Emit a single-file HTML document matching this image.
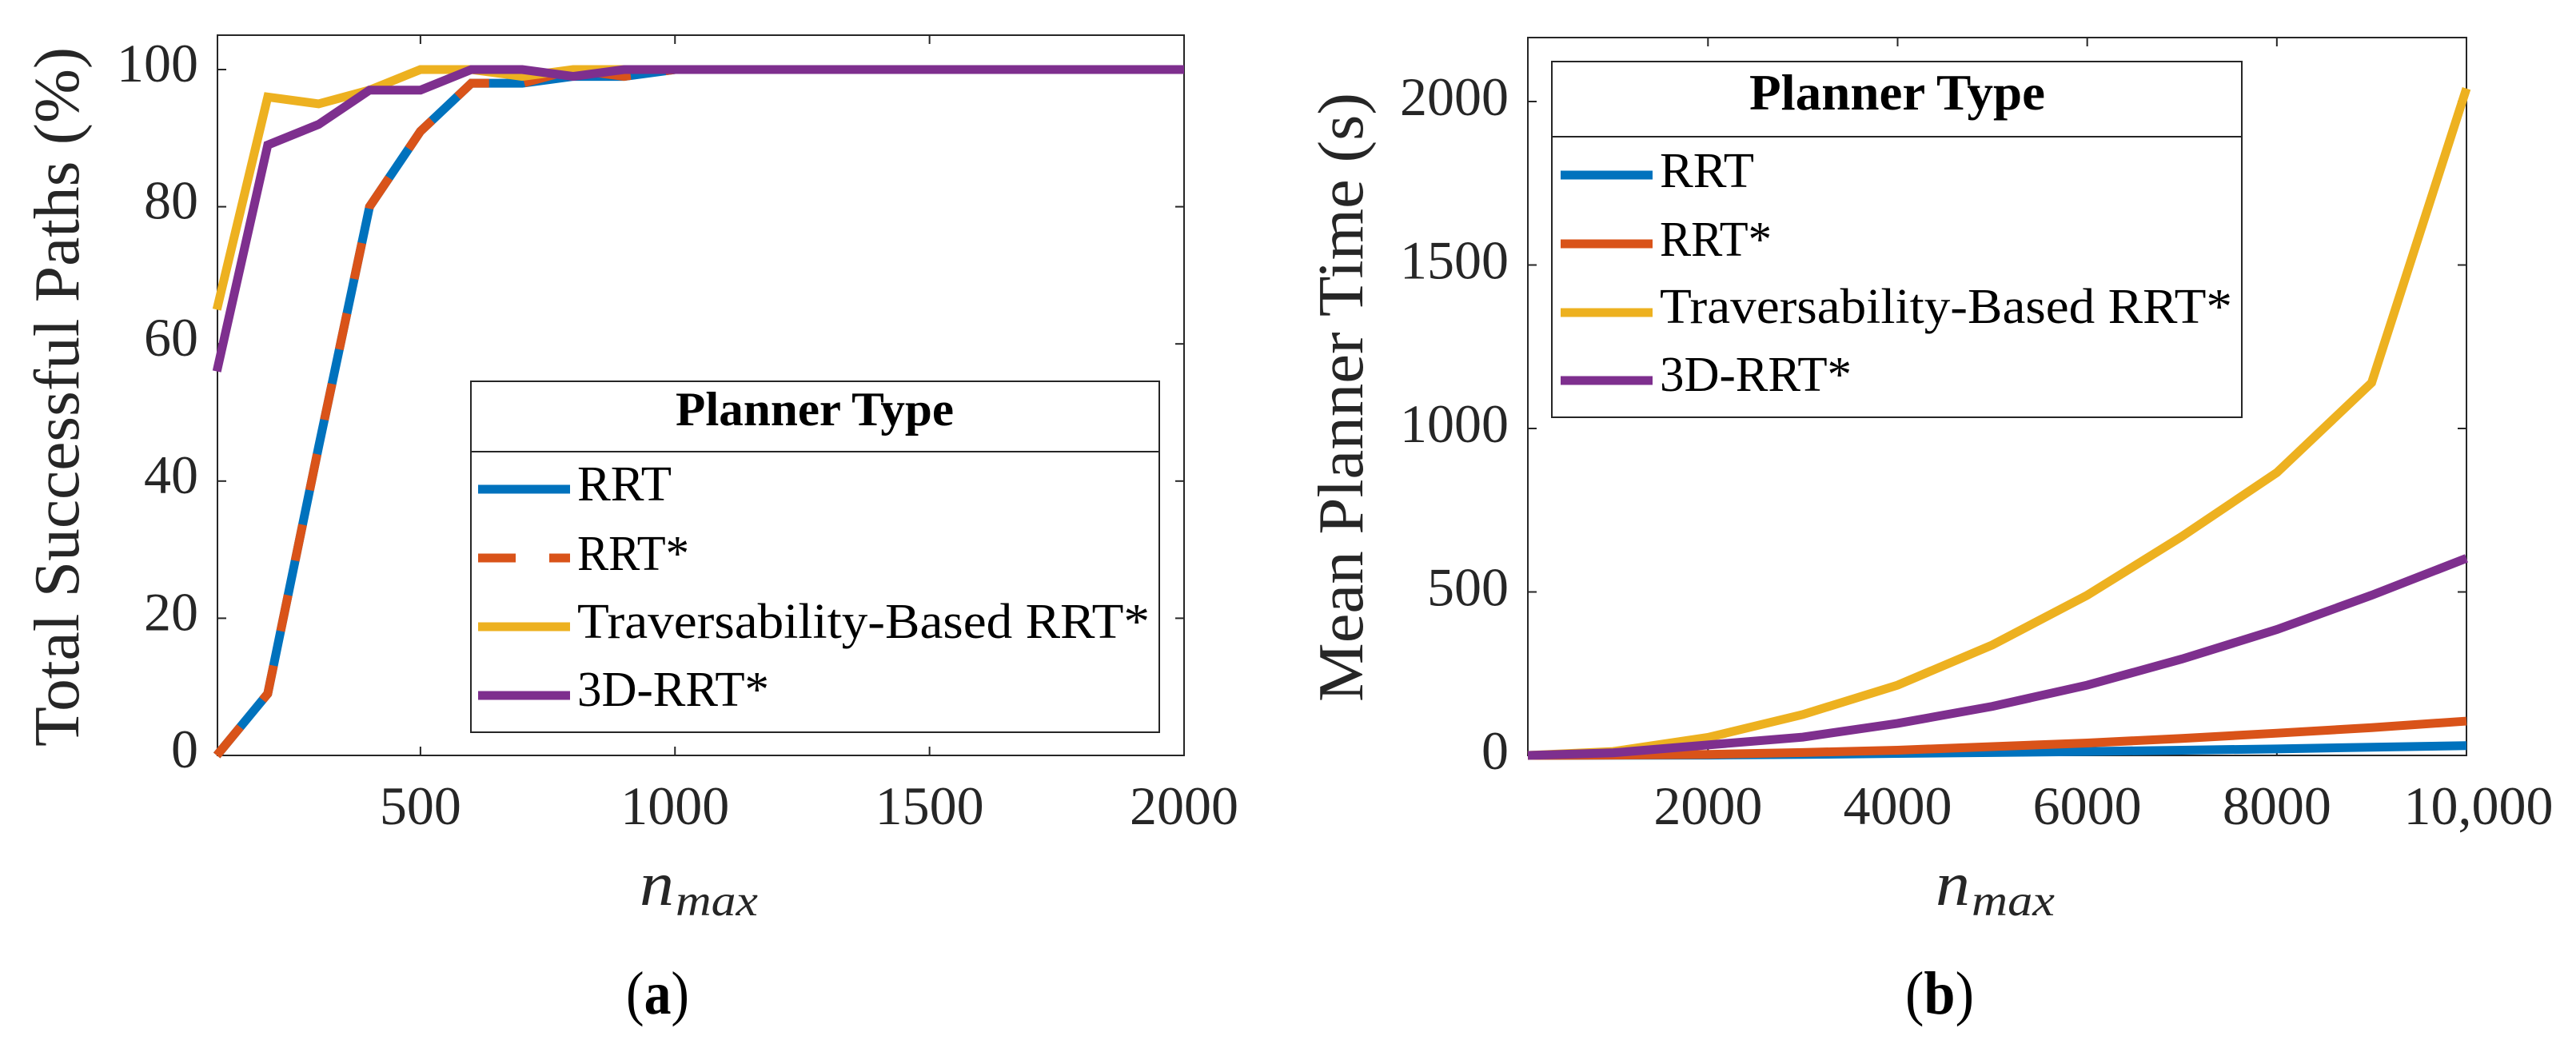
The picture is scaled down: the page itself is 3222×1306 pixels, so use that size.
<!DOCTYPE html>
<html lang="en">
<head>
<meta charset="utf-8">
<title>Planner comparison charts</title>
<style>
html,body{margin:0;padding:0;background:#fff;width:3222px;height:1306px;overflow:hidden}
svg{display:block}
text{font-family:"Liberation Serif",serif}
.tick-label{font-size:68px;fill:#262626}
.axis-title{font-size:81px;fill:#262626}
.legend-text{font-size:62px;fill:#000}
.legend-title{font-weight:bold;fill:#000}
.math-main{font-size:78px;font-style:italic;fill:#262626}
.math-sub{font-size:55px;font-style:italic;fill:#262626}
.caption{font-size:76px;fill:#000}
</style>
</head>
<body>
<svg id="figure" xmlns="http://www.w3.org/2000/svg" width="3222" height="1306" viewBox="0 0 3222 1306">
  <rect x="0" y="0" width="3222" height="1306" fill="#fff"/>

  <g id="chart-a">
    <rect x="272" y="44" width="1209" height="901" fill="none" stroke="#262626" stroke-width="2"/>
    <g id="ticks-a"></g>
    <g id="lines-a"></g>
    <text class="axis-title" transform="translate(98,934) rotate(-90)" textLength="875" lengthAdjust="spacingAndGlyphs">Total Successful Paths (%)</text>
    <text class="math-main" x="800" y="1132" textLength="43" lengthAdjust="spacingAndGlyphs">n</text>
    <text class="math-sub" x="845" y="1145" textLength="103" lengthAdjust="spacingAndGlyphs">max</text>
    <g>
      <rect x="589" y="477" width="861" height="439" fill="#fff" stroke="#262626" stroke-width="2"/>
      <line x1="589" y1="565" x2="1450" y2="565" stroke="#262626" stroke-width="2"/>
      <text class="legend-title" font-size="60" x="845" y="532" textLength="348" lengthAdjust="spacingAndGlyphs">Planner Type</text>
      <line x1="598" y1="612" x2="713" y2="612" stroke="#0072BD" stroke-width="11"/>
      <text class="legend-text" x="722" y="626" textLength="118" lengthAdjust="spacingAndGlyphs">RRT</text>
      <line x1="598" y1="698" x2="713" y2="698" stroke="#D95319" stroke-width="11" stroke-dasharray="47 42"/>
      <text class="legend-text" x="722" y="713" textLength="140" lengthAdjust="spacingAndGlyphs">RRT*</text>
      <line x1="598" y1="784" x2="713" y2="784" stroke="#EDB120" stroke-width="11"/>
      <text class="legend-text" x="722" y="798" textLength="716" lengthAdjust="spacingAndGlyphs">Traversability-Based RRT*</text>
      <line x1="598" y1="870" x2="713" y2="870" stroke="#7E2F8E" stroke-width="11"/>
      <text class="legend-text" x="722" y="883" textLength="240" lengthAdjust="spacingAndGlyphs">3D-RRT*</text>
    </g>
    <text class="caption" x="783" y="1268" textLength="79" lengthAdjust="spacingAndGlyphs">(<tspan font-weight="bold">a</tspan>)</text>
  </g>

  <g id="chart-b">
    <rect x="1911" y="47" width="1174" height="898" fill="none" stroke="#262626" stroke-width="2"/>
    <g id="ticks-b"></g>
    <g id="lines-b"></g>
    <text class="axis-title" transform="translate(1704,878) rotate(-90)" textLength="762" lengthAdjust="spacingAndGlyphs">Mean Planner Time (s)</text>
    <text class="math-main" x="2421" y="1132" textLength="43" lengthAdjust="spacingAndGlyphs">n</text>
    <text class="math-sub" x="2466" y="1145" textLength="104" lengthAdjust="spacingAndGlyphs">max</text>
    <g>
      <rect x="1941" y="77" width="863" height="445" fill="#fff" stroke="#262626" stroke-width="2"/>
      <line x1="1941" y1="171" x2="2804" y2="171" stroke="#262626" stroke-width="2"/>
      <text class="legend-title" font-size="64" x="2188" y="137" textLength="370" lengthAdjust="spacingAndGlyphs">Planner Type</text>
      <line x1="1952" y1="219" x2="2067" y2="219" stroke="#0072BD" stroke-width="11"/>
      <text class="legend-text" x="2076" y="234" textLength="118" lengthAdjust="spacingAndGlyphs">RRT</text>
      <line x1="1952" y1="305" x2="2067" y2="305" stroke="#D95319" stroke-width="11"/>
      <text class="legend-text" x="2076" y="320" textLength="140" lengthAdjust="spacingAndGlyphs">RRT*</text>
      <line x1="1952" y1="391" x2="2067" y2="391" stroke="#EDB120" stroke-width="11"/>
      <text class="legend-text" x="2076" y="404" textLength="716" lengthAdjust="spacingAndGlyphs">Traversability-Based RRT*</text>
      <line x1="1952" y1="476" x2="2067" y2="476" stroke="#7E2F8E" stroke-width="11"/>
      <text class="legend-text" x="2076" y="489" textLength="240" lengthAdjust="spacingAndGlyphs">3D-RRT*</text>
    </g>
    <text class="caption" x="2383" y="1268" textLength="86" lengthAdjust="spacingAndGlyphs">(<tspan font-weight="bold">b</tspan>)</text>
  </g>
</svg>

<script>
// Chart A: total successful paths
var successN = [100,200,300,400,500,600,700,800,900,1000,1100,1200,1300,1400,1500,1600,1700,1800,1900,2000];
var successRrt = [0,9,45,80,91,98,98,99,99,100,100,100,100,100,100,100,100,100,100,100];
var successRrtStar = [0,9,45,80,91,98,98,100,99,100,100,100,100,100,100,100,100,100,100,100];
var successTraversability = [65,96,95,97,100,100,99,100,100,100,100,100,100,100,100,100,100,100,100,100];
var success3d = [56,89,92,97,97,100,100,99,100,100,100,100,100,100,100,100,100,100,100,100];
var successXTicks = [500,1000,1500,2000];
var successYTicks = [0,20,40,60,80,100];

// Chart B: mean planner time
var timeN = [100,1000,2000,3000,4000,5000,6000,7000,8000,9000,10000];
var timeRrt = [0,0.5,1,3,6,9,12,16,20,25,30];
var timeRrtStar = [0,1,3,9,16,27,38,52,68,85,105];
var timeTraversability = [0,12,55,125,215,338,490,670,865,1140,2040];
var time3d = [0,8,32,56,98,150,215,295,385,490,603];
var timeXTicks = [2000,4000,6000,8000,10000];
var timeXTickLabels = ['2000','4000','6000','8000','10,000'];
var timeYTicks = [0,500,1000,1500,2000];

var SVG_NS = 'http://www.w3.org/2000/svg';

// Axis functions
function successX(v) { return 271.2 + (v - 100) * (1481 - 271.2) / 1900; }
function successY(v) { return 945 - v * 8.58; }
function timeX(v) { return 1911 + (v - 100) * (3085 - 1911) / 9900; }
function timeY(v) { return 945 - v * 0.409; }

function drawSeries(groupId, xs, ys, xFn, yFn, color, name, dash) {
  var pts = [];
  for (var i = 0; i < xs.length; i++) {
    pts.push(xFn(xs[i]).toFixed(2) + ',' + yFn(ys[i]).toFixed(2));
  }
  var line = document.createElementNS(SVG_NS, 'polyline');
  
  
  line.setAttribute('points', pts.join(' '));
  line.setAttribute('fill', 'none');
  line.setAttribute('stroke', color);
  line.setAttribute('stroke-width', '11');
  line.setAttribute('stroke-linejoin', 'miter');
  if (dash) { line.setAttribute('stroke-dasharray', dash); }
  document.getElementById(groupId).appendChild(line);
}

function drawTickMark(groupId, x1, y1, x2, y2, name) {
  var t = document.createElementNS(SVG_NS, 'line');
  
  
  t.setAttribute('x1', x1);
  t.setAttribute('y1', y1);
  t.setAttribute('x2', x2);
  t.setAttribute('y2', y2);
  t.setAttribute('stroke', '#262626');
  t.setAttribute('stroke-width', '2');
  document.getElementById(groupId).appendChild(t);
}

function drawTickLabel(groupId, x, y, anchor, label, name) {
  var t = document.createElementNS(SVG_NS, 'text');
  
  
  t.setAttribute('class', 'tick-label');
  t.setAttribute('x', x);
  t.setAttribute('y', y);
  t.setAttribute('text-anchor', anchor);
  t.textContent = label;
  document.getElementById(groupId).appendChild(t);
}

// Chart A ticks
successXTicks.forEach(function (v) {
  var x = successX(v);
  drawTickMark('ticks-a', x, 945, x, 934, 'success-x-tick-bottom');
  drawTickMark('ticks-a', x, 44, x, 55, 'success-x-tick-top');
  drawTickLabel('ticks-a', x, 1031, 'middle', String(v), 'success-x-tick-label');
});
successYTicks.forEach(function (v) {
  var y = successY(v);
  drawTickMark('ticks-a', 272, y, 283, y, 'success-y-tick-left');
  drawTickMark('ticks-a', 1481, y, 1470, y, 'success-y-tick-right');
  drawTickLabel('ticks-a', 248, y + 15, 'end', String(v), 'success-y-tick-label');
});

// Chart A lines
drawSeries('lines-a', successN, successRrt, successX, successY, '#0072BD', 'success-line-rrt');
drawSeries('lines-a', successN, successRrtStar, successX, successY, '#D95319', 'success-line-rrt-star', '46 44');
drawSeries('lines-a', successN, successTraversability, successX, successY, '#EDB120', 'success-line-traversability');
drawSeries('lines-a', successN, success3d, successX, successY, '#7E2F8E', 'success-line-3d');

// Chart B ticks
timeXTicks.forEach(function (v, i) {
  var x = timeX(v);
  drawTickMark('ticks-b', x, 945, x, 934, 'time-x-tick-bottom');
  drawTickMark('ticks-b', x, 47, x, 58, 'time-x-tick-top');
  drawTickLabel('ticks-b', x + (i === timeXTicks.length - 1 ? 15 : 0), 1031, 'middle', timeXTickLabels[i], 'time-x-tick-label');
});
timeYTicks.forEach(function (v) {
  var y = timeY(v);
  drawTickMark('ticks-b', 1911, y, 1922, y, 'time-y-tick-left');
  drawTickMark('ticks-b', 3085, y, 3074, y, 'time-y-tick-right');
  drawTickLabel('ticks-b', 1887, y + 17, 'end', String(v), 'time-y-tick-label');
});

// Chart B lines
drawSeries('lines-b', timeN, timeRrt, timeX, timeY, '#0072BD', 'time-line-rrt');
drawSeries('lines-b', timeN, timeRrtStar, timeX, timeY, '#D95319', 'time-line-rrt-star');
drawSeries('lines-b', timeN, timeTraversability, timeX, timeY, '#EDB120', 'time-line-traversability');
drawSeries('lines-b', timeN, time3d, timeX, timeY, '#7E2F8E', 'time-line-3d');
</script>
</body>
</html>
